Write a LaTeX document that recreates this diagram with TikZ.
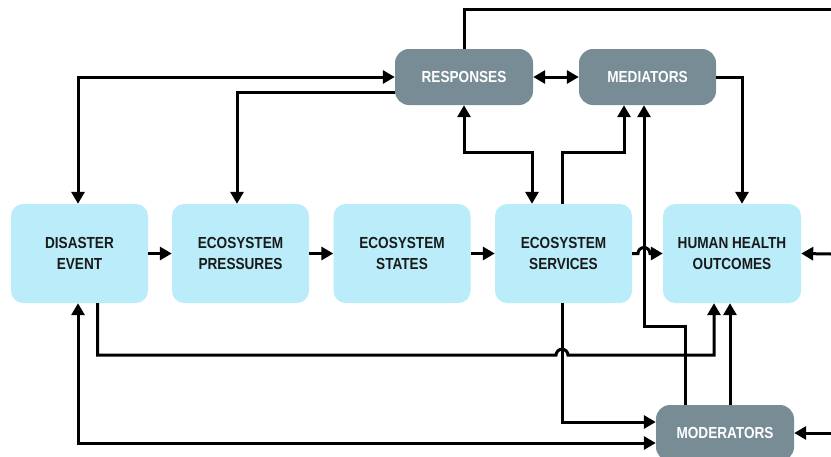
\documentclass[tikz,border=0pt]{standalone}
\usepackage{fontspec}
\usepackage{tikz}
\usepackage{xcolor}
\usetikzlibrary{arrows.meta}

\newfontfamily\boxfont{Liberation Sans}[FakeStretch=0.85]
\definecolor{stageblue}{HTML}{BAEDF9}
\definecolor{factorgray}{HTML}{788C96}
\definecolor{stagetext}{HTML}{1A1A1A}

\tikzset{
    stage/.style={rounded corners=12pt, fill=stageblue, text=stagetext,
        minimum width=137pt, minimum height=99pt, align=center, inner sep=0pt,
        font=\boxfont\bfseries\fontsize{16}{20.5}\selectfont},
    factor/.style={rounded corners=14pt, fill=factorgray, text=white,
        minimum width=138pt, minimum height=56pt, align=center, inner sep=0pt,
        font=\boxfont\bfseries\fontsize{16}{20.5}\selectfont},
    wire/.style={line width=3pt},
    link/.style={wire, -{Triangle[length=12pt,width=13pt]}},
    both/.style={wire, {Triangle[length=12pt,width=13pt]}-{Triangle[length=12pt,width=13pt]}}
}

\begin{document}
\begin{tikzpicture}[x=1pt, y=-1pt]
    \useasboundingbox (0,0) rectangle (831,456);

    % Stages
    \node [stage] (disaster)  at (79.5,253.5) {DISASTER\\EVENT};
    \node [stage] (pressures) at (240.5,253.5) {ECOSYSTEM\\PRESSURES};
    \node [stage] (states)    at (402,253.5) {ECOSYSTEM\\STATES};
    \node [stage] (services)  at (563.5,253.5) {ECOSYSTEM\\SERVICES};
    \node [stage, minimum width=138pt] (health) at (732,253.5) {HUMAN HEALTH\\OUTCOMES};

    % Factors
    \node [factor] (responses)  at (464,77) {RESPONSES};
    \node [factor, minimum width=137pt] (mediators) at (647.5,77) {MEDIATORS};
    \node [factor] (moderators) at (725,433) {MODERATORS};

    % Free ends (off the right edge)
    \coordinate (offtop)    at (831,9);
    \coordinate (offhealth) at (831,254);
    \coordinate (offmod)    at (831,433);

    % Crossings
    \coordinate (crosslow) at ([xshift=-1.5pt,yshift=-52pt]services.south);
    \coordinate (crossmid) at ([xshift=-3.5pt]mediators.south |- services.east);

    % Main chain
    \draw [link] (disaster)  -- (pressures);
    \draw [link] (pressures) -- (states);
    \draw [link] (states)    -- (services);
    \draw [link] (services.east) -- ([xshift=-6pt]crossmid)
        arc [start angle=180, end angle=0, radius=6pt] -- (health.west);

    % Responses
    \draw [wire] (responses.north) |- (offtop);
    \draw [both] ([xshift=-1.5pt]disaster.north) |- (responses.west);
    \draw [link] ([yshift=-15pt]responses.west) -| ([xshift=-3.5pt]pressures.north);
    \draw [both] (responses.south) -- ++(0,47) -| ([xshift=-31.5pt]services.north);
    \draw [both] (responses) -- (mediators);

    % Mediators
    \draw [link] ([xshift=-1.5pt]services.north) -- ++(0,-51)
        -| ([xshift=-23.5pt]mediators.south);
    \draw [link] (mediators.east) -| ([xshift=10pt]health.north);
    \draw [link] ([xshift=-40pt]moderators.north) -- ++(0,-78)
        -| ([xshift=-3.5pt]mediators.south);

    % Lower links
    \draw [link] ([xshift=18pt]disaster.south) |- ([xshift=-6pt]crosslow)
        arc [start angle=180, end angle=0, radius=6pt]
        -| ([xshift=-18pt]health.south);
    \draw [link] ([xshift=-1.5pt]services.south) |- ([yshift=11pt]moderators.west);
    \draw [both] ([xshift=-1.5pt]disaster.south) |- ([yshift=-10pt]moderators.west);
    \draw [link] ([xshift=5pt]moderators.north) -- ([xshift=5pt]moderators.north |- health.south);

    % From the right
    \draw [link] (offhealth) -- (health.east);
    \draw [link] (offmod) -- (moderators.east);
\end{tikzpicture}
\end{document}
